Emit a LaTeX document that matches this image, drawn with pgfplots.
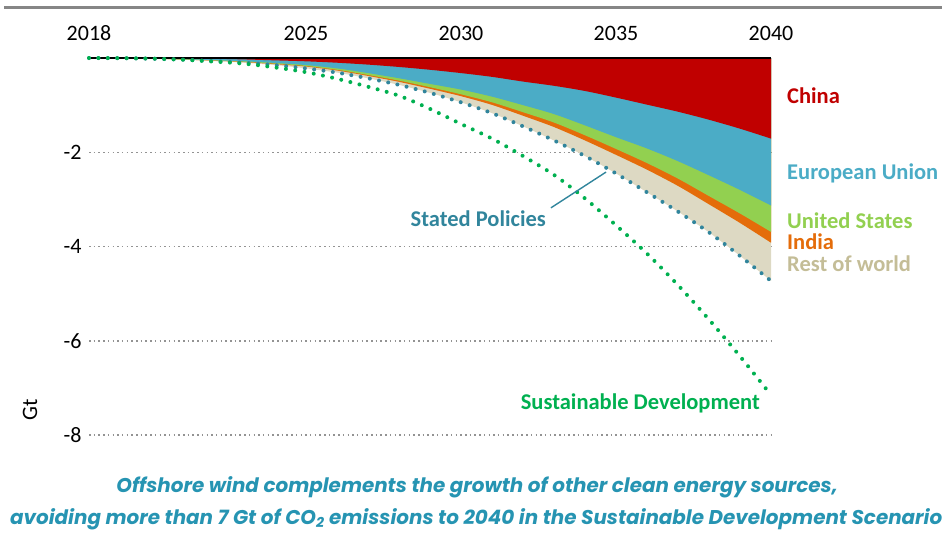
\documentclass[border=0pt]{standalone}
\usepackage{fontspec}
\setmainfont{Carlito}
\newfontfamily\capfont{Poppins}
\usepackage{pgfplots}
\pgfplotsset{compat=1.18}
\usepackage{pgfplotstable}

\definecolor{cChina}{RGB}{192,0,0}
\definecolor{cEU}{RGB}{75,172,198}
\definecolor{cUS}{RGB}{146,208,80}
\definecolor{cIndia}{RGB}{228,108,10}
\definecolor{cRow}{RGB}{221,217,195}
\definecolor{cRowTxt}{RGB}{196,189,151}
\definecolor{cSP}{RGB}{49,133,156}
\definecolor{cSD}{RGB}{0,176,80}
\definecolor{cCap}{RGB}{38,148,178}

% cumulative boundaries (Gt, negative = avoided)
\pgfplotstableread{
year C E U I R SD
2018 0 0 0 0 0 0
2019 0 -0.003 -0.003 -0.003 -0.004 -0.003
2020 -0.002 -0.010 -0.012 -0.014 -0.015 -0.012
2021 -0.005 -0.025 -0.030 -0.033 -0.035 -0.035
2022 -0.015 -0.045 -0.050 -0.055 -0.065 -0.075
2023 -0.030 -0.070 -0.080 -0.087 -0.100 -0.120
2024 -0.050 -0.105 -0.120 -0.130 -0.150 -0.200
2025 -0.070 -0.150 -0.170 -0.182 -0.220 -0.300
2026 -0.100 -0.220 -0.250 -0.266 -0.310 -0.440
2027 -0.140 -0.320 -0.360 -0.380 -0.430 -0.610
2028 -0.190 -0.430 -0.480 -0.506 -0.570 -0.800
2029 -0.250 -0.550 -0.620 -0.653 -0.740 -1.080
2030 -0.320 -0.670 -0.770 -0.810 -0.940 -1.400
2031 -0.400 -0.820 -0.940 -0.995 -1.170 -1.710
2032 -0.500 -1.000 -1.150 -1.225 -1.450 -2.080
2033 -0.590 -1.190 -1.370 -1.465 -1.750 -2.480
2034 -0.700 -1.430 -1.640 -1.750 -2.080 -2.980
2035 -0.840 -1.680 -1.930 -2.055 -2.450 -3.550
2036 -0.990 -1.920 -2.230 -2.370 -2.850 -4.150
2037 -1.140 -2.190 -2.560 -2.715 -3.260 -4.820
2038 -1.310 -2.490 -2.930 -3.105 -3.700 -5.550
2039 -1.500 -2.800 -3.300 -3.500 -4.200 -6.330
2040 -1.710 -3.130 -3.690 -3.920 -4.730 -7.150
}\data

\begin{document}
\begin{tikzpicture}
\path[use as bounding box] (0pt,0pt) rectangle (942pt,544pt);
\draw[gray!95, line width=3pt] (4pt,536pt) -- (942pt,536pt);
\begin{axis}[
  at={(89pt,109pt)}, anchor=south west,
  scale only axis, width=682pt, height=377pt,
  xmin=2018, xmax=2040, ymin=-8, ymax=0,
  clip=false,
  axis line style={draw=none},
  tick style={draw=none},
  xtick={2018,2025,2030,2035,2040},
  xticklabels={2018,2025,2030,2035,2040},
  xticklabel pos=upper,
  ytick={-8,-6,-4,-2},
  yticklabels={-8,-6,-4,-2},
  /pgf/number format/assume math mode=true,
  ticklabel style={font=\fontsize{22}{26}\selectfont, text=black},
  xticklabel style={yshift=14pt},
  yticklabel style={xshift=-4pt},
  ymajorgrids,
  grid style={gray!85, line width=1.5pt, dash pattern=on 1.5pt off 3.2pt},
  ylabel={Gt},
  ylabel style={at={(axis description cs:-0.0865,0.066)}, anchor=center, font=\fontsize{22}{26}\selectfont},
]
\addplot[fill=cRow, draw=none, smooth] table[x=year,y=R]{\data} \closedcycle;
\addplot[fill=cIndia, draw=none, smooth] table[x=year,y=I]{\data} \closedcycle;
\addplot[fill=cUS, draw=none, smooth] table[x=year,y=U]{\data} \closedcycle;
\addplot[fill=cEU, draw=none, smooth] table[x=year,y=E]{\data} \closedcycle;
\addplot[fill=cChina, draw=none, smooth] table[x=year,y=C]{\data} \closedcycle;
\draw[black, line width=1.6pt] (axis cs:2018,0) -- (axis cs:2040,0);
\addplot[cSP, line width=4pt, line cap=round, dash pattern=on 0pt off 9.4pt, smooth] table[x=year,y=R]{\data};
\addplot[cSD, line width=4pt, line cap=round, dash pattern=on 0pt off 9.4pt, smooth] table[x=year,y=SD]{\data};
\draw[cSP, line width=1.4pt] (axis cs:2032.9,-3.18) -- (axis cs:2034.68,-2.42);
\end{axis}
\begin{scope}[every node/.style={font=\fontsize{22.5}{26}\selectfont\bfseries, inner sep=0pt}]
\node[anchor=west, text=cChina] at (787pt,448pt) {China};
\node[anchor=west, text=cEU] at (787pt,371pt) {European Union};
\node[anchor=west, text=cUS] at (787pt,323pt) {United States};
\node[anchor=west, text=cIndia] at (787pt,302pt) {India};
\node[anchor=west, text=cRowTxt] at (787pt,280pt) {Rest of world};
\node[anchor=east, text=cSP] at (546pt,325pt) {Stated Policies};
\node[anchor=east, text=cSD] at (760pt,141pt) {Sustainable Development};
\end{scope}
\begin{scope}[every node/.style={font=\capfont\fontsize{19.9}{24}\selectfont\bfseries\itshape, inner sep=0pt, text=cCap}]
\node[anchor=center] at (477pt,57pt) {Offshore wind complements the growth of other clean energy sources,};
\node[anchor=west] at (10pt,25pt) {avoiding more than 7 Gt of CO\textsubscript{2} emissions to 2040 in the Sustainable Development Scenario};
\end{scope}
\end{tikzpicture}
\end{document}
